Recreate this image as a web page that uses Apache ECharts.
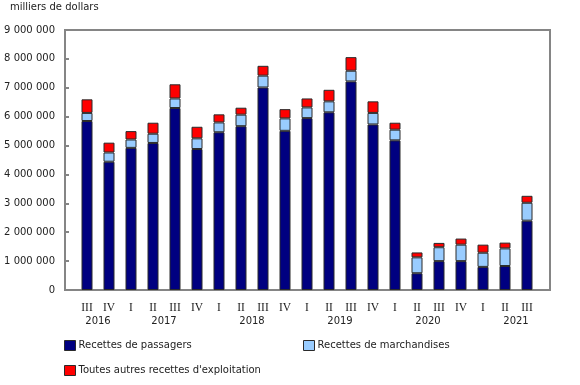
<!DOCTYPE html>
<html>
<head>
<meta charset="utf-8">
<script src="https://cdn.jsdelivr.net/npm/echarts@6/dist/echarts.min.js"></script>
<style>html,body{margin:0;padding:0;background:#fff;}#c{width:580px;height:385px;}</style>
</head>
<body>
<div id="c"></div>
<script>
var quarters = ['III','IV','I','II','III','IV','I','II','III','IV','I','II','III','IV','I','II','III','IV','I','II','III'];
var years = ['2016','2017','2018','2019','2020','2021'];
var yearPositions = [0.5, 3.5, 7.5, 11.5, 15.5, 19.5];
var passagers = [5850000,4440000,4920000,5090000,6300000,4880000,5460000,5670000,7010000,5510000,5950000,6150000,7220000,5730000,5180000,580000,1000000,1000000,800000,830000,2400000];
var marchandises = [280000,320000,290000,320000,330000,370000,340000,400000,410000,430000,370000,380000,370000,400000,370000,550000,480000,570000,490000,610000,620000];
var autres = [470000,340000,290000,380000,490000,400000,280000,240000,340000,320000,310000,400000,470000,400000,240000,170000,150000,210000,280000,200000,240000];
var yTicks = [0,1000000,2000000,3000000,4000000,5000000,6000000,7000000,8000000,9000000];
var seriesNames = ['Recettes de passagers','Recettes de marchandises',"Toutes autres recettes d'exploitation"];

function fmt(v){ return String(Math.round(v)).replace(/\B(?=(\d{3})+(?!\d))/g,' '); }

var chart = echarts.init(document.getElementById('c'), null, {renderer:'canvas'});
var font = 'DejaVu Sans';
var border = {borderColor:'#2a2a2a', borderWidth:1};
var yMin = yTicks[0], yMax = yTicks[yTicks.length-1];
function legendAt(name, left, top){
  return {data:[{name:name, icon:'rect'}], left:left, top:top, itemWidth:11, itemHeight:10, itemGap:0, padding:0,
    itemStyle:{borderColor:'#2a2a2a', borderWidth:1},
    textStyle:{fontFamily:font, fontSize:10, color:'#222', padding:[0,0,0,-2]}};
}
chart.setOption({
  animation:false,
  title:{text:'milliers de dollars', left:10, top:2, padding:0,
    textStyle:{fontFamily:font, fontSize:10, fontWeight:'normal', color:'#222'}},
  grid:[
    {left:65, right:30, top:30, bottom:95, show:true, borderColor:'#858585', borderWidth:2, backgroundColor:'transparent'},
    {left:76, right:42, top:30, bottom:95}
  ],
  xAxis:[
    {gridIndex:0, type:'value', min:0, max:1, show:false},
    {gridIndex:1, type:'category', data:quarters,
     axisLine:{show:false}, axisTick:{show:false}, splitLine:{show:false},
     axisLabel:{interval:0, margin:12, fontFamily:'Liberation Serif', fontSize:11.5, color:'#222'}},
    {gridIndex:1, type:'value', min:-0.5, max:quarters.length-0.5, position:'bottom',
     axisLine:{show:false}, axisTick:{show:false}, splitLine:{show:false},
     axisLabel:{customValues:yearPositions, margin:26,
       formatter:function(v){ var k = yearPositions.indexOf(v); return k>=0 ? years[k] : ''; },
       fontFamily:font, fontSize:10, color:'#222'}}
  ],
  yAxis:[
    {gridIndex:0, type:'value', min:yMin, max:yMax, interval:yTicks[1]-yTicks[0],
     axisLine:{show:true, onZero:false, lineStyle:{color:'#858585', width:2}},
     axisTick:{show:true, inside:true, length:4, lineStyle:{color:'#858585', width:2}},
     splitLine:{show:false},
     axisLabel:{formatter:fmt, margin:10, fontFamily:font, fontSize:10, color:'#222'}},
    {gridIndex:1, type:'value', min:yMin, max:yMax, show:false}
  ],
  legend:[
    legendAt(seriesNames[0], 64, 340),
    legendAt(seriesNames[1], 303, 340),
    legendAt(seriesNames[2], 64, 365)
  ],
  series:[
    {name:seriesNames[0], type:'bar', stack:'t', barWidth:11, xAxisIndex:1, yAxisIndex:1, data:passagers,
     itemStyle:Object.assign({color:'#000080'}, border)},
    {name:seriesNames[1], type:'bar', stack:'t', barWidth:11, xAxisIndex:1, yAxisIndex:1, data:marchandises,
     itemStyle:Object.assign({color:'#99ccff'}, border)},
    {name:seriesNames[2], type:'bar', stack:'t', barWidth:11, xAxisIndex:1, yAxisIndex:1, data:autres,
     itemStyle:Object.assign({color:'#ff0000'}, border)}
  ]
});
</script>
</body>
</html>
